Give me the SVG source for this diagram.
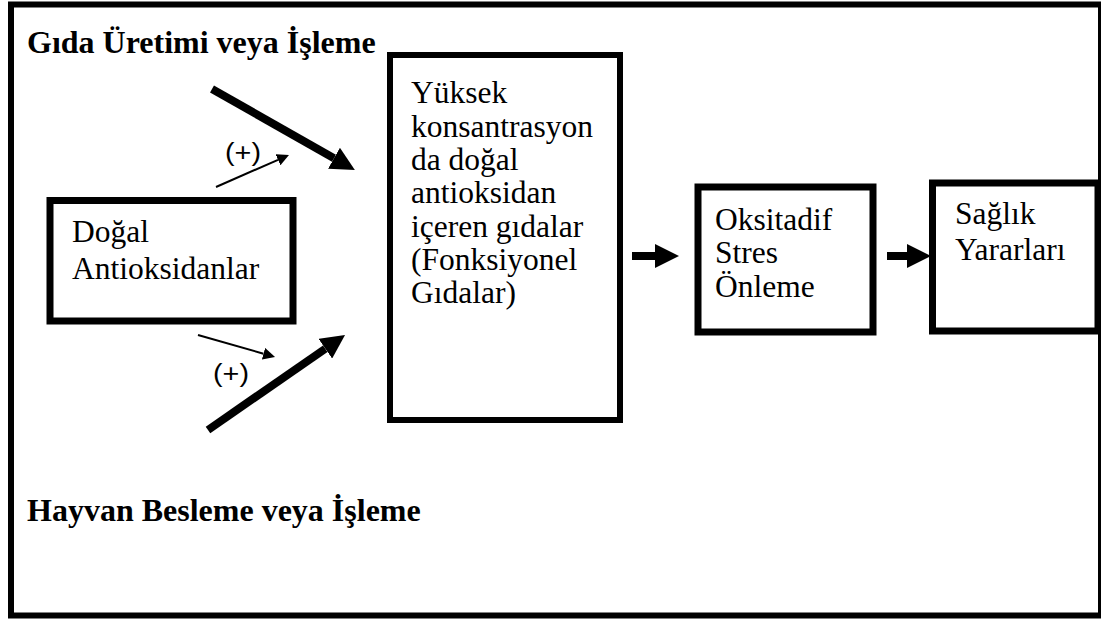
<svg xmlns="http://www.w3.org/2000/svg" width="1101" height="619" viewBox="0 0 1101 619">
<defs>
<style>
.box{fill:#fff;stroke:#000;stroke-width:7}
.t{font-family:"Liberation Serif","Times New Roman",serif;font-size:31.5px;fill:#000}
.b{font-family:"Liberation Serif","Times New Roman",serif;font-size:32px;font-weight:bold;fill:#000}
.p{font-family:"Liberation Sans",Arial,sans-serif;font-size:26px;fill:#000}
.thick{stroke:#000;stroke-width:8;fill:none;marker-end:url(#hThick)}
.thin{stroke:#000;stroke-width:2;fill:none;marker-end:url(#hThin)}
</style>
<marker id="hThick" markerUnits="userSpaceOnUse" markerWidth="24" markerHeight="24" viewBox="0 0 10 10" refX="0" refY="5" orient="auto"><path d="M0,0 L10,5 L0,10 z" fill="#000"/></marker>
<marker id="hThin" markerUnits="userSpaceOnUse" markerWidth="12" markerHeight="12" viewBox="0 0 10 10" refX="0" refY="5" orient="auto"><path d="M0,0 L10,5 L0,10 z" fill="#000"/></marker>
</defs>
<rect x="0" y="0" width="1101" height="619" fill="#fff"/>
<rect id="frame" x="11" y="4.5" width="1090" height="611" fill="none" stroke="#000" stroke-width="6"/>
<g id="label-gida"><text class="b" x="27" y="53">Gıda Üretimi veya İşleme</text></g>
<g id="label-hayvan"><text class="b" x="27" y="521">Hayvan Besleme veya İşleme</text></g>
<g id="node-dogal">
<rect class="box" x="50" y="200.5" width="243" height="120.5"/>
<text class="t" x="72" y="242">Doğal</text>
<text class="t" x="72" y="279">Antioksidanlar</text>
</g>
<g id="node-fonksiyonel">
<rect class="box" x="390" y="55" width="230" height="365" style="stroke-width:6"/>
<text class="t" x="411" y="103">Yüksek</text>
<text class="t" x="411" y="136.5">konsantrasyon</text>
<text class="t" x="411" y="170">da doğal</text>
<text class="t" x="411" y="203">antioksidan</text>
<text class="t" x="411" y="236.5">içeren gıdalar</text>
<text class="t" x="411" y="270">(Fonksiyonel</text>
<text class="t" x="411" y="303">Gıdalar)</text>
</g>
<g id="node-oksitadif">
<rect class="box" x="698" y="187" width="175" height="145"/>
<text class="t" x="715" y="230">Oksitadif</text>
<text class="t" x="715" y="263">Stres</text>
<text class="t" x="715" y="296.5">Önleme</text>
</g>
<g id="node-saglik">
<rect class="box" x="932.5" y="183" width="165.5" height="148"/>
<text class="t" x="955" y="224">Sağlık</text>
<text class="t" x="955" y="260">Yararları</text>
</g>
<g id="connectors">
<line class="thick" x1="212" y1="89" x2="334" y2="158.2"/>
<line class="thick" x1="208" y1="430" x2="325.3" y2="348.7"/>
<line class="thin" x1="216" y1="187" x2="278" y2="159.8"/>
<line class="thin" x1="198" y1="335" x2="263.5" y2="353.7"/>
<line class="thick" x1="632" y1="256" x2="655" y2="256"/>
<line class="thick" x1="887" y1="256" x2="907" y2="256"/>
<text class="p" x="225" y="161" textLength="36" lengthAdjust="spacingAndGlyphs">(+)</text>
<text class="p" x="213" y="382" textLength="36" lengthAdjust="spacingAndGlyphs">(+)</text>
</g>
</svg>
